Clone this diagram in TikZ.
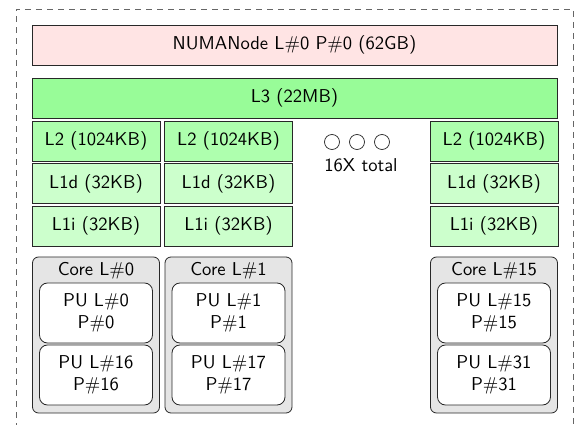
\documentclass[tikz,border=0pt]{standalone}
\usepackage{tikz}
\usepackage{graphicx}
\definecolor{numafill}{RGB}{255,228,228}
\definecolor{lthree}{RGB}{152,252,152}
\definecolor{ltwo}{RGB}{174,255,174}
\definecolor{lone}{RGB}{204,255,204}
\definecolor{corefill}{RGB}{229,229,229}
\definecolor{edge}{RGB}{40,40,40}
\newcommand\txt[1]{\scalebox{1.86}{\fontsize{10}{12.2}\selectfont\begin{tabular}{@{}c@{}}#1\end{tabular}}}
\begin{document}
\begin{tikzpicture}[x=1pt,y=-1pt,
  font=\sffamily,
  box/.style={draw=edge, line width=0.8pt, inner sep=0pt, minimum height=40pt, align=center},
  wide/.style={box, minimum width=525pt},
  cache/.style={box, minimum width=128pt},
  corebox/.style={draw=edge, line width=0.8pt, fill=corefill, rounded corners=6pt, minimum width=127pt, minimum height=156pt, inner sep=0pt},
  pubox/.style={draw=edge, line width=0.8pt, fill=white, rounded corners=8pt, minimum width=113pt, minimum height=60pt, inner sep=0pt, align=center},
  dot/.style={circle, draw=edge, line width=0.7pt, minimum size=15pt, inner sep=0pt},
  frame/.style={draw=black!60, line width=0.8pt, dash pattern=on 6pt off 5pt}]
\useasboundingbox (0,0) rectangle (574,425);
\coordinate (fbl) at (16,440);
\coordinate (ftl) at (16,9);
\coordinate (ftr) at (573,9);
\coordinate (fbr) at (573,440);
\draw[frame] (fbl) -- (ftl) -- (ftr) -- (fbr);

\node[wide, fill=numafill] (numa) at (294.5,45) {\txt{NUMANode L\#0 P\#0 (62GB)}};
\node[wide, fill=lthree] (l3) at (294.5,98) {\txt{L3 (22MB)}};

\foreach \n/\cx/\c/\pa/\pb in {a/96/0/0/16, b/228.5/1/1/17, c/494/15/15/31}{
  \node[cache, fill=ltwo] (l2\n) at (\cx,141) {\txt{L2 (1024KB)}};
  \node[cache, fill=lone] (l1d\n) at (\cx,183.5) {\txt{L1d (32KB)}};
  \node[cache, fill=lone] (l1i\n) at (\cx,226) {\txt{L1i (32KB)}};
  \node[corebox] (core\n) at (\cx,335) {};
  \node[inner sep=0pt] (corelab\n) at (\cx,271) {\txt{Core L\#\c}};
  \node[pubox] (pua\n) at (\cx,313) {\txt{PU L\#\pa\\P\#\pa}};
  \node[pubox] (pub\n) at (\cx,375) {\txt{PU L\#\pb\\P\#\pb}};
}

\node[dot] (d1) at (332,142) {};
\node[dot] (d2) at (357,142) {};
\node[dot] (d3) at (382,142) {};
\node[inner sep=0pt] (total) at (361,167) {\txt{16X total}};
\end{tikzpicture}
\end{document}
